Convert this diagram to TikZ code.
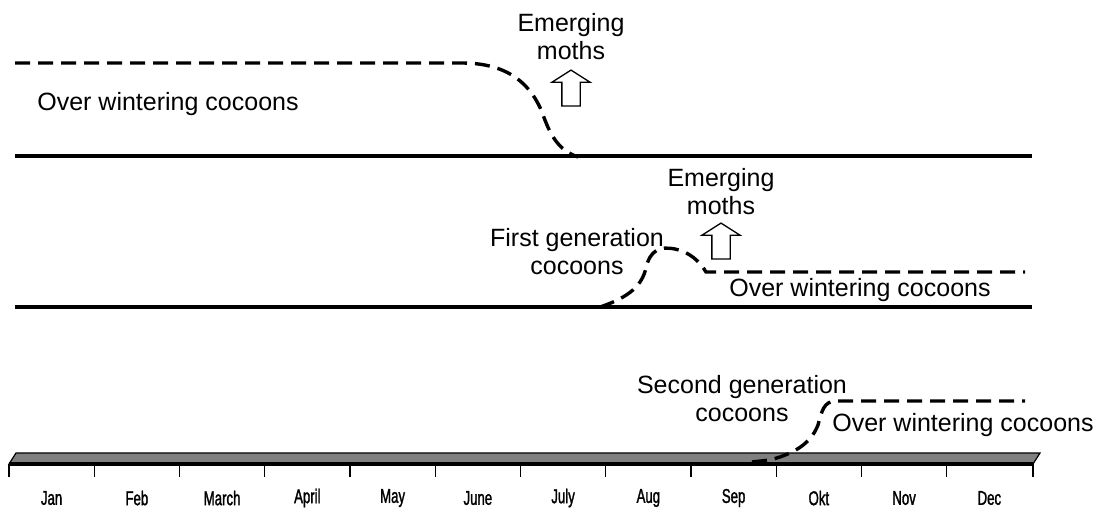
\documentclass[tikz,border=0pt]{standalone}
\usepackage{fontspec}
\setmainfont{Liberation Sans}
\newfontfamily\monthfont[FakeStretch=0.66,FakeBold=1.4]{Liberation Sans}
\usetikzlibrary{shapes.arrows}

\begin{document}
\begin{tikzpicture}[x=1pt,y=-1pt,
    lbl/.style={font=\fontsize{25}{28}\selectfont, align=center, inner sep=0pt},
    gen/.style={line width=3.4pt, dash pattern=on 15pt off 8pt},
    ground/.style={line width=4pt},
    moths/.style={single arrow, draw, line width=1.3pt, shape border rotate=90, minimum height=36pt, inner sep=8.5pt, single arrow head extend=10pt, single arrow tip angle=115},
    month/.style={font=\monthfont\fontsize{20}{22}\selectfont, inner sep=0pt}]
    \useasboundingbox (0,0) rectangle (1095,509);

    \coordinate (s1) at (15,63);
    \coordinate (e1) at (578,157);
    \draw[ground] (15,156) -- (1032,156);
    \draw[gen] (s1) -- (462,63) .. controls (512,63) and (532,88) .. (542,112) .. controls (550,135) and (558,150) .. (e1);
    \node[lbl] (winter1) at (168,104) {Over wintering cocoons};
    \node[lbl] (emerge1) at (571,37) {Emerging\\moths};
    \node[moths] (up1) at (571,91) {};

    \coordinate (s2) at (600,307);
    \coordinate (e2) at (1025,272);
    \draw[ground] (15,307) -- (1032,307);
    \draw[gen] (s2) .. controls (630,297) and (642,285) .. (646,268) .. controls (650,250) and (660,246) .. (675,249) .. controls (690,252) and (700,262) .. (706,272) -- (e2);
    \node[lbl] (first) at (577,252) {First generation\\cocoons};
    \node[lbl] (emerge2) at (721,192) {Emerging\\moths};
    \node[moths] (up2) at (721,244) {};
    \node[lbl] (winter2) at (860,290) {Over wintering cocoons};

    \draw[fill=gray, line width=1.2pt] (9,464) -- (16,453) -- (1040,453) -- (1033,464) -- cycle;
    \draw[ground] (9,464) -- (1033,464);
    \foreach \m [count=\i from 0] in {Jan,Feb,March,April,May,June,July,Aug,Sep,Okt,Nov,Dec} {
        \draw[line width=1.3pt] (9+85.25*\i,464) -- (9+85.25*\i,477);
        \node[month] (m\i) at (51.6+85.25*\i,498) {\m};
    }
    \draw[line width=1.3pt] (1033,464) -- (1033,477);

    \coordinate (s3) at (752,462);
    \coordinate (e3) at (1025,401);
    \draw[gen] (s3) -- (770,460) .. controls (800,452) and (812,440) .. (818,425) .. controls (822,410) and (824,402) .. (835,401) -- (e3);
    \node[lbl] (second) at (742,399) {Second generation\\cocoons};
    \node[lbl] (winter3) at (963,425) {Over wintering cocoons};
\end{tikzpicture}
\end{document}
